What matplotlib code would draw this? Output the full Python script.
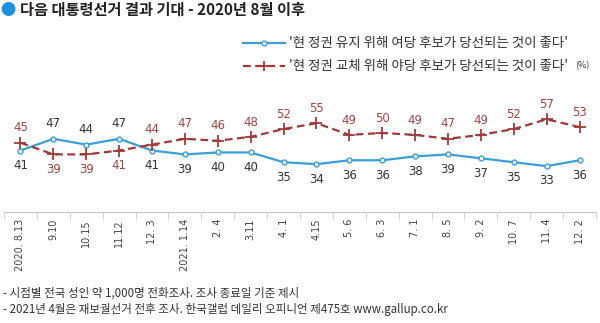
import matplotlib.pyplot as plt
from matplotlib.lines import Line2D

plt.rcParams['font.family'] = ['Noto Sans CJK KR', 'DejaVu Sans']

# 조사 시점
dates = ['2020. 8.13', '9.10', '10.15', '11.12', '12. 3', '2021. 1.14', '2. 4',
         '3.11', '4. 1', '4.15', '5. 6', '6. 3', '7. 1', '8. 5', '9. 2',
         '10. 7', '11. 4', '12. 2']
# 여당 후보 당선 (정권 유지)
keep = [41, 47, 44, 47, 41, 39, 40, 40, 35, 34, 36, 36, 38, 39, 37, 35, 33, 36]
# 야당 후보 당선 (정권 교체)
change = [45, 39, 39, 41, 44, 47, 46, 48, 52, 55, 49, 50, 49, 47, 49, 52, 57, 53]

blue = '#3a9fd6'
red = '#9e3a3a'
x = list(range(len(dates)))

fig = plt.figure(figsize=(6.0, 3.23), dpi=100)
ax = fig.add_axes([4 / 600, (323 - 212) / 323, 592 / 600, 122 / 323])

ax.plot(x, keep, color=blue, lw=1.6, marker='o', ms=3.5,
        mfc='white', mec=blue, mew=1.0, zorder=3)
ax.plot(x, change, color=red, lw=1.6, ls=(0, (3.5, 2)), marker='+', ms=8,
        mew=1.3, zorder=3)

# 값 표시: 높은 쪽은 위, 낮은 쪽은 아래
for i in x:
    for vals, other, col in ((keep, change, '#333333'), (change, keep, '#9e4444')):
        v = vals[i]
        if v >= other[i]:
            ax.annotate(str(v), (i, v), xytext=(0, 6), textcoords='offset points',
                        ha='center', va='bottom', fontsize=8.5, color=col,
                        family='DejaVu Sans')
        else:
            ax.annotate(str(v), (i, v), xytext=(0, -6), textcoords='offset points',
                        ha='center', va='top', fontsize=8.5, color=col,
                        family='DejaVu Sans')

ax.set_xlim(-0.5, len(dates) - 0.5)
ax.set_ylim(9.5, 72)
for s in ['top', 'right', 'left']:
    ax.spines[s].set_visible(False)
ax.spines['bottom'].set_color('#c8c8c8')
ax.set_yticks([])
ax.set_xticks(x)
ax.set_xticklabels(dates, rotation=90, fontsize=7, color='#444444',
                   family='DejaVu Sans')
ax.tick_params(axis='x', which='major', length=0, pad=5)
ax.set_xticks([i - 0.5 for i in range(len(dates) + 1)], minor=True)
ax.tick_params(axis='x', which='minor', length=5, color='#c8c8c8')

# 제목
fig.text(8 / 600, 1 - 10 / 323, '●', color='#1e90e0', fontsize=11,
         ha='center', va='center')
fig.text(20 / 600, 1 - 10 / 323, '다음 대통령선거 결과 기대 - 2020년 8월 이후',
         fontsize=11, fontweight='bold', color='#222222', va='center')

# 범례
fig.add_artist(Line2D([243 / 600, 285 / 600], [1 - 43 / 323] * 2, color=blue,
                      lw=1.6))
fig.add_artist(Line2D([264 / 600], [1 - 43 / 323], color=blue, lw=0, marker='o',
                      ms=3.5, mfc='white', mec=blue))
fig.add_artist(Line2D([243 / 600, 285 / 600], [1 - 66 / 323] * 2, color=red,
                      lw=1.6, ls=(0, (3.5, 2))))
fig.add_artist(Line2D([264 / 600], [1 - 66 / 323], color=red, lw=0, marker='+',
                      ms=7, mew=1.3))
fig.text(289 / 600, 1 - 43 / 323, "'현 정권 유지 위해 여당 후보가 당선되는 것이 좋다'",
         fontsize=9.7, color='#333333', va='center')
fig.text(289 / 600, 1 - 66 / 323,
         "'현 정권 교체 위해 야당 후보가 당선되는 것이 좋다'", fontsize=9.7,
         color='#333333', va='center')
fig.text(575 / 600, 1 - 66 / 323, '(%)', fontsize=6.5, color='#333333',
         va='center')

# 주석
fig.text(3 / 600, 1 - 293 / 323, '- 시점별 전국 성인 약 1,000명 전화조사. 조사 종료일 기준 제시',
         fontsize=8.3, color='#333333', va='center')
fig.text(3 / 600, 1 - 309 / 323,
         '- 2021년 4월은 재보궐선거 전후 조사. 한국갤럽 데일리 오피니언 제475호 www.gallup.co.kr',
         fontsize=8.3, color='#333333', va='center')

fig.savefig('out.png', dpi=100, facecolor='white')
